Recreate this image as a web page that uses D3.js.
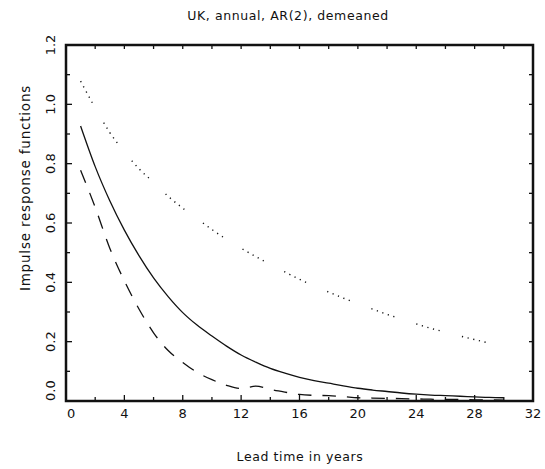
<!DOCTYPE html>
<html>
<head>
<meta charset="utf-8">
<script src="https://cdn.jsdelivr.net/npm/d3@7"></script>
<style>
  body { margin: 0; background: #fff; }
  text { font-family: "DejaVu Sans", sans-serif; fill: #111; }
</style>
</head>
<body>
<div id="chart"></div>
<script>
// lead time in years
const years = d3.range(1, 31);

// solid: impulse response
const solid = [0.927, 0.79, 0.675, 0.576, 0.49, 0.415, 0.352, 0.298, 0.255, 0.219,
  0.185, 0.155, 0.131, 0.110, 0.094, 0.080, 0.069, 0.060, 0.051, 0.043,
  0.037, 0.032, 0.027, 0.023, 0.020, 0.018, 0.016, 0.014, 0.012, 0.011];

// dashed
const dashed = [0.778, 0.653, 0.515, 0.405, 0.31, 0.23, 0.17, 0.13, 0.096, 0.072,
  0.053, 0.042, 0.05, 0.039, 0.03, 0.022, 0.019, 0.018, 0.015, 0.011,
  0.01, 0.009, 0.008, 0.007, 0.006, 0.005, 0.005, 0.004, 0.004, 0.003];

// dotted
const dotted = [1.078, 0.988, 0.905, 0.84, 0.783, 0.737, 0.69, 0.65, 0.614, 0.578,
  0.545, 0.515, 0.487, 0.46, 0.435, 0.41, 0.388, 0.367, 0.347, 0.328,
  0.31, 0.292, 0.276, 0.26, 0.245, 0.232, 0.219, 0.207, 0.195, 0.184];

const xTicks = [0, 4, 8, 12, 16, 20, 24, 28, 32];
const yTicks = [0.0, 0.2, 0.4, 0.6, 0.8, 1.0, 1.2];

const width = 545, height = 469;
const margin = { top: 45, right: 12, bottom: 68, left: 66 };

const svg = d3.select('#chart')
  .append('svg')
  .attr('width', width)
  .attr('height', height);

const x = d3.scaleLinear().domain([0, 32]).range([margin.left, width - margin.right]);
const y = d3.scaleLinear().domain([0, 1.2]).range([height - margin.bottom, margin.top]);

const x0 = x.range()[0], x1 = x.range()[1];
const y0 = y.range()[0], y1 = y.range()[1];

// ticks, inward on all four sides
const xMinor = d3.range(0, 33, 2);
const yMinor = d3.range(0, 13).map(d => d / 10);
const isMajorX = d => d % 4 === 0;
const isMajorY = d => Math.round(d * 10) % 2 === 0;

const tickG = svg.append('g').attr('stroke', '#111').attr('stroke-width', 1.3);
xMinor.forEach(d => {
  const len = isMajorX(d) ? 6 : 4;
  tickG.append('line').attr('x1', x(d)).attr('x2', x(d)).attr('y1', y0).attr('y2', y0 - len);
  tickG.append('line').attr('x1', x(d)).attr('x2', x(d)).attr('y1', y1).attr('y2', y1 + 4);
});
yMinor.forEach(d => {
  const len = isMajorY(d) ? 6 : 4;
  tickG.append('line').attr('y1', y(d)).attr('y2', y(d)).attr('x1', x0).attr('x2', x0 + len);
  tickG.append('line').attr('y1', y(d)).attr('y2', y(d)).attr('x1', x1).attr('x2', x1 - 4);
});

// tick labels
svg.append('g').selectAll('text')
  .data(xTicks)
  .join('text')
  .attr('x', (d, i) => i === 0 ? x(d) + 1 : x(d))
  .attr('y', y0 + 17)
  .attr('text-anchor', (d, i) => i === 0 ? 'start' : 'middle')
  .style('font-size', '13px')
  .text(d => d);

svg.append('g').selectAll('text')
  .data(yTicks)
  .join('text')
  .attr('transform', d => `translate(55,${y(d)}) rotate(-90)`)
  .attr('text-anchor', (d, i) => i === 0 ? 'start' : 'middle')
  .style('font-size', '13px')
  .text(d => d.toFixed(1));

// curves
const line = d3.line()
  .curve(d3.curveMonotoneX)
  .x((d, i) => x(years[i]))
  .y(d => y(d));

svg.append('path')
  .datum(dotted)
  .attr('fill', 'none')
  .attr('stroke', '#111')
  .attr('stroke-width', 1.4)
  .attr('stroke-dasharray', '1.2,4.6,1.2,4.6,1.2,4.6,1.2,4.6,1.2,23')
  .attr('d', line);

svg.append('path')
  .datum(solid)
  .attr('fill', 'none')
  .attr('stroke', '#111')
  .attr('stroke-width', 1.3)
  .attr('d', line);

svg.append('path')
  .datum(dashed)
  .attr('fill', 'none')
  .attr('stroke', '#111')
  .attr('stroke-width', 1.3)
  .attr('stroke-dasharray', '13.5,11')
  .attr('d', line);

// frame
svg.append('rect')
  .attr('x', x0)
  .attr('y', y1)
  .attr('width', x1 - x0)
  .attr('height', y0 - y1)
  .attr('fill', 'none')
  .attr('stroke', '#111')
  .attr('stroke-width', 2.5);

// titles
svg.append('text')
  .attr('x', 288)
  .attr('y', 20)
  .attr('text-anchor', 'middle')
  .style('font-size', '12.5px')
  .style('letter-spacing', '0.6px')
  .text('UK, annual, AR(2), demeaned');

svg.append('text')
  .attr('x', 300)
  .attr('y', 461)
  .attr('text-anchor', 'middle')
  .style('font-size', '12.5px')
  .style('letter-spacing', '0.6px')
  .text('Lead time in years');

svg.append('text')
  .attr('transform', 'translate(30,188) rotate(-90)')
  .attr('text-anchor', 'middle')
  .style('font-size', '13.5px')
  .style('letter-spacing', '0.8px')
  .text('Impulse response functions');
</script>
</body>
</html>
